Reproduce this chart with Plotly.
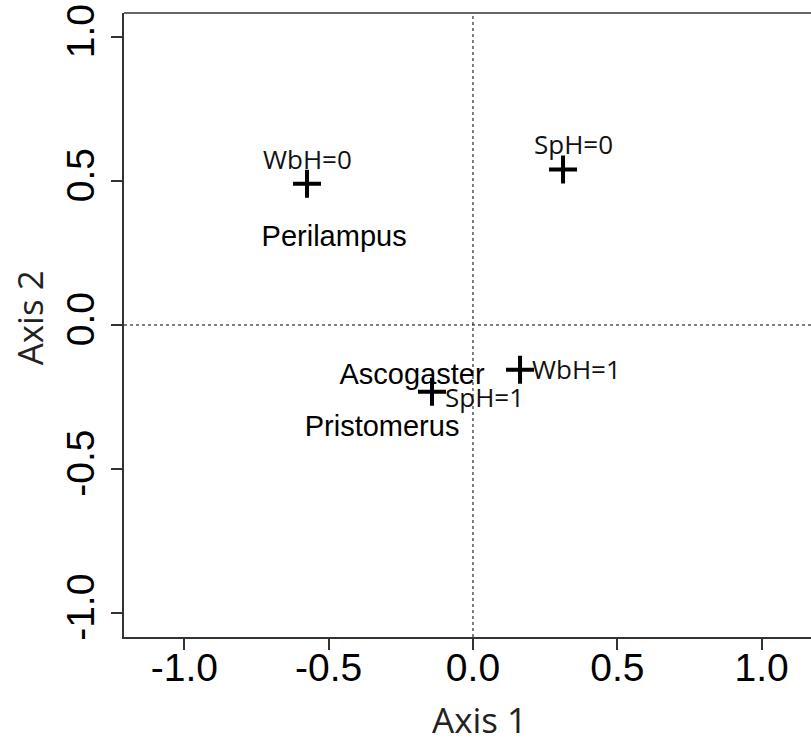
import plotly.graph_objects as go

# Category points (+ markers)
cat_labels = ["WbH=0", "SpH=0", "WbH=1", "SpH=1"]
cat_x = [-0.575, 0.312, 0.163, -0.142]
cat_y = [0.490, 0.540, -0.155, -0.232]

# Species labels (text only)
sp_labels = ["Perilampus", "Ascogaster", "Pristomerus"]
sp_x = [-0.481, -0.211, -0.315]
sp_y = [0.298, -0.180, -0.360]

tick_vals = [-1.0, -0.5, 0.0, 0.5, 1.0]
tick_text = ["-1.0", "-0.5", "0.0", "0.5", "1.0"]

xr = [-1.209, 1.171]
yr = [-1.083, 1.083]

# label placement styles (pixel offsets from the marker)
lab_style = [
    dict(xanchor="center", xshift=0, yshift=25),
    dict(xanchor="center", xshift=10, yshift=25),
    dict(xanchor="left", xshift=10, yshift=1),
    dict(xanchor="left", xshift=11, yshift=-5),
]

fig = go.Figure()

fig.add_trace(go.Scatter(
    x=cat_x, y=cat_y, mode="markers",
    marker=dict(symbol="cross-thin", size=20, line=dict(width=4, color="black")),
    showlegend=False, cliponaxis=False,
))

for lab, x, y, st in zip(cat_labels, cat_x, cat_y, lab_style):
    fig.add_annotation(text=lab, x=x, y=y, xref="x", yref="y", showarrow=False,
                       yanchor="middle", font=dict(family="Open Sans", size=26, color="#111"),
                       **st)

fig.add_trace(go.Scatter(
    x=sp_x, y=sp_y, mode="text", text=sp_labels,
    textfont=dict(family="Liberation Sans, Arial", size=29, color="black"),
    showlegend=False, cliponaxis=False,
))

# dotted reference lines
fig.add_shape(type="line", x0=0, x1=0, y0=yr[0], y1=yr[1], xref="x", yref="y",
              line=dict(color="black", width=1, dash="dot"), layer="below")
fig.add_shape(type="line", x0=xr[0], x1=xr[1], y0=0, y1=0, xref="x", yref="y",
              line=dict(color="black", width=1, dash="dot"), layer="below")
# top border
fig.add_shape(type="line", x0=0, x1=1, y0=1, y1=1, xref="paper", yref="paper",
              line=dict(color="#333", width=1.5))

axis_common = dict(showgrid=False, zeroline=False, showline=True, linecolor="#333", linewidth=1.5,
                   ticks="outside", ticklen=11, tickwidth=1.5, tickcolor="#333",
                   tickvals=tick_vals, ticktext=tick_text,
                   tickfont=dict(family="Liberation Sans, Arial", size=39, color="black"))
fig.update_xaxes(range=xr, ticklabelstandoff=-16, **axis_common)
fig.update_yaxes(range=yr, tickangle=-90, ticklabelstandoff=2, **axis_common)

fig.add_annotation(text="Axis 1", x=0.518, y=-0.132, xref="paper", yref="paper",
                   showarrow=False, yanchor="middle", xanchor="center",
                   font=dict(family="Open Sans", size=35, color="#222"))
fig.add_annotation(text="Axis 2", x=-0.138, y=0.511, xref="paper", yref="paper",
                   showarrow=False, textangle=-90, xanchor="center", yanchor="middle",
                   font=dict(family="Open Sans", size=35, color="#222"))

fig.update_layout(width=811, height=740, margin=dict(l=124, r=0, t=13, b=103),
                  plot_bgcolor="white", paper_bgcolor="white")

fig.write_html("out.html")
